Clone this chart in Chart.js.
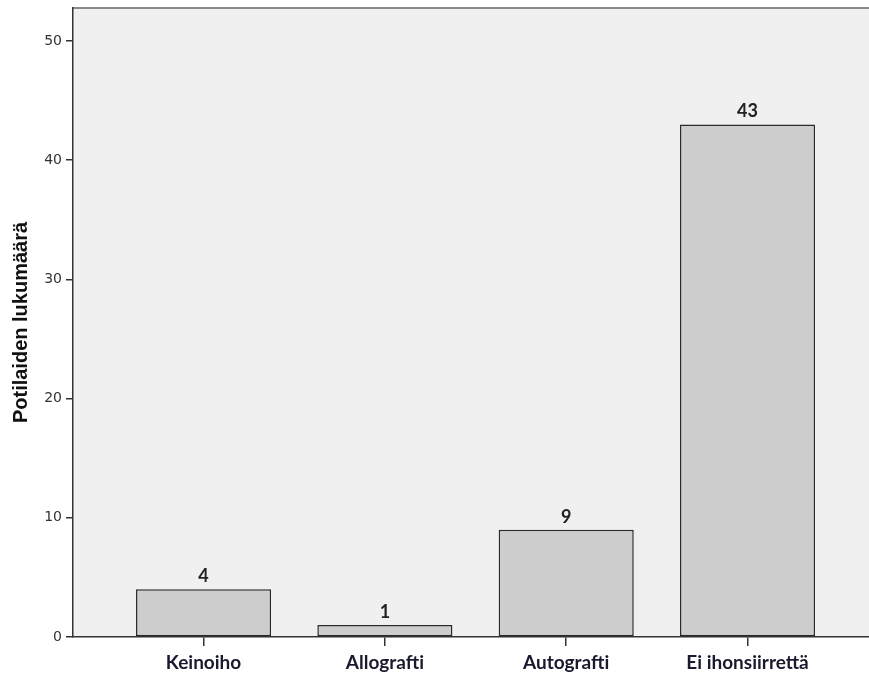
<!DOCTYPE html>
<html>
<head>
<meta charset="utf-8">
<script src="https://cdn.jsdelivr.net/npm/chart.js@4/dist/chart.umd.min.js"></script>
<style>
html,body{margin:0;padding:0;background:#fff;}
#wrap{width:869px;height:680px;}
</style>
</head>
<body>
<div id="wrap"><canvas id="c" width="869" height="680"></canvas></div>
<script>
const categories = ['Keinoiho', 'Allografti', 'Autografti', 'Ei ihonsiirrettä'];
const counts = [4, 1, 9, 43];
const yTicks = [0, 10, 20, 30, 40, 50];
const yTitle = 'Potilaiden lukumäärä';

const points = counts.map((v, i) => ({x: i, y: v}));

const bgPlugin = {
  id: 'bg',
  beforeDraw(chart) {
    const {ctx, chartArea: a} = chart;
    ctx.save();
    ctx.fillStyle = '#f0f0f0';
    ctx.fillRect(a.left, a.top, a.right - a.left, a.bottom - a.top);
    ctx.strokeStyle = '#8a8a8a';
    ctx.lineWidth = 2;
    ctx.beginPath();
    ctx.moveTo(a.left, a.top);
    ctx.lineTo(a.right, a.top);
    ctx.stroke();
    ctx.restore();
  }
};

const labelPlugin = {
  id: 'vals',
  afterDatasetsDraw(chart) {
    const {ctx} = chart;
    const meta = chart.getDatasetMeta(0);
    ctx.save();
    ctx.font = 'bold 18px Lato, "Liberation Sans", sans-serif';
    ctx.fillStyle = '#222';
    ctx.textAlign = 'center';
    ctx.textBaseline = 'alphabetic';
    meta.data.forEach((el, i) => {
      ctx.fillText(String(counts[i]), el.x, el.y - 7);
    });
    ctx.restore();
  }
};

new Chart(document.getElementById('c'), {
  type: 'bar',
  data: {
    datasets: [{
      data: points,
      backgroundColor: '#cdcdcd',
      borderColor: '#2a2a2a',
      borderWidth: 1.5,
      borderSkipped: false,
      barPercentage: 0.745,
      categoryPercentage: 1
    }]
  },
  options: {
    responsive: false,
    animation: false,
    layout: {padding: {top: 8, right: 0, left: 0, bottom: 0}},
    plugins: {legend: {display: false}, tooltip: {enabled: false}},
    scales: {
      x: {
        type: 'linear',
        offset: false,
        min: -0.72,
        max: 3.67,
        afterBuildTicks(scale) { scale.ticks = categories.map((c, i) => ({value: i})); },
        afterFit(scale) { scale.height = 43; scale.paddingLeft = 0; scale.paddingRight = 0; },
        grid: {offset: false, drawOnChartArea: false, drawTicks: true, tickLength: 9, color: '#333', lineWidth: 1.5},
        border: {color: '#333', width: 1.5},
        ticks: {
          autoSkip: false,
          maxRotation: 0,
          padding: 5,
          color: '#1a1a2e',
          font: {family: 'Lato, "Liberation Sans", sans-serif', size: 19, weight: 'bold'},
          callback: (v) => categories[v]
        }
      },
      y: {
        min: 0,
        max: 52.77,
        afterBuildTicks(scale) { scale.ticks = yTicks.map(v => ({value: v})); },
        afterFit(scale) { scale.width = 73; scale.paddingTop = 0; scale.paddingBottom = 0; },
        grid: {drawOnChartArea: false, drawTicks: true, tickLength: 7, color: '#333', lineWidth: 1.5},
        border: {color: '#333', width: 1.5},
        ticks: {
          padding: 4,
          color: '#333',
          font: {family: '"DejaVu Sans", sans-serif', size: 14}
        },
        title: {
          display: true,
          text: yTitle,
          color: '#111',
          padding: {top: 9, bottom: 0},
          font: {family: '"Liberation Sans", Arial, sans-serif', size: 20, weight: 'bold'}
        }
      }
    }
  },
  plugins: [bgPlugin, labelPlugin]
});
</script>
</body>
</html>
